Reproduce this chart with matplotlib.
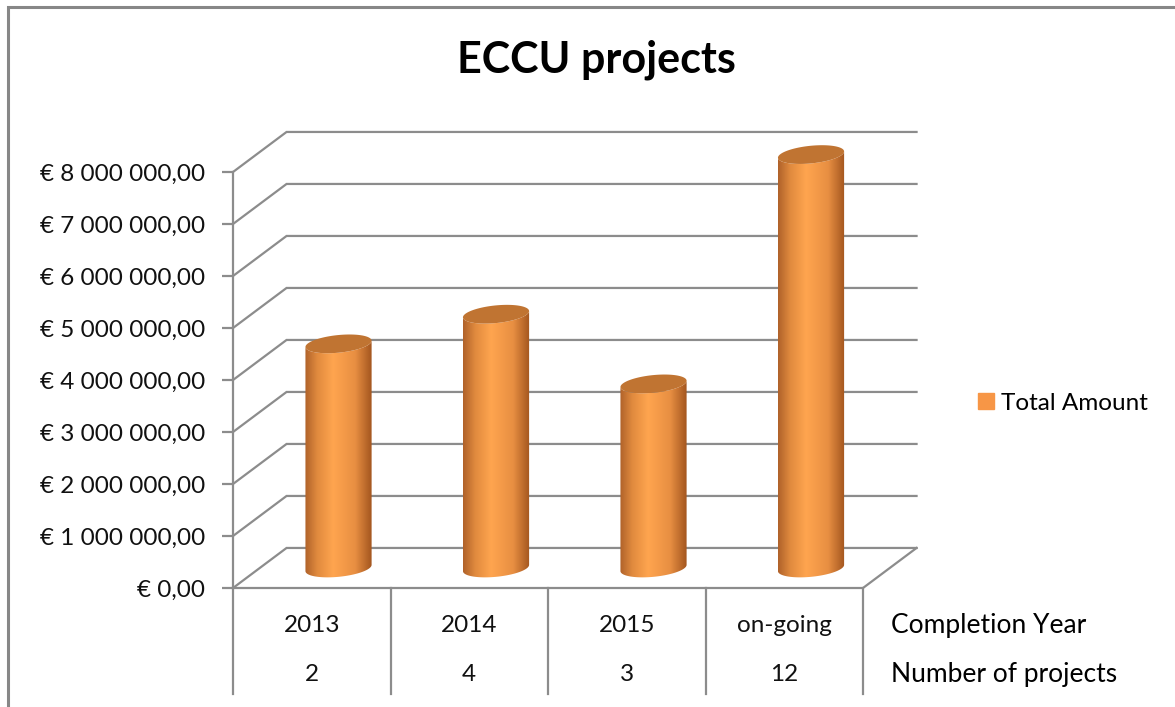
import numpy as np
import matplotlib
matplotlib.use("Agg")
import matplotlib.pyplot as plt
from matplotlib.patches import Polygon, Patch, Rectangle
from matplotlib.transforms import blended_transform_factory
from matplotlib.colors import LinearSegmentedColormap

plt.rcParams['font.family'] = ['Lato', 'DejaVu Sans']

# data
years = ['2013', '2014', '2015', 'on-going']
n_projects = ['2', '4', '3', '12']
amounts = [4.31e6, 4.88e6, 3.54e6, 7.95e6]
y_ticks = np.arange(0, 9e6, 1e6)

# fake-3d settings (data units)
DEPTH_X = 0.34
DEPTH_Y = 0.77e6
CYL_W = 0.42
ELL_H = 0.17e6
ELL_TILT = 0.06e6
GRID = '#8c8c8c'

cyl_cmap = LinearSegmentedColormap.from_list(
    'cyl', [(0, '#b0622a'), (0.18, '#e08a3e'), (0.42, '#ffa54f'),
            (0.75, '#e88f42'), (1, '#a3561f')])


def fmt_euro(v):
    s = f"{v:,.2f}".replace(',', ' ').replace('.', ',')
    return '€ ' + s


fig = plt.figure(figsize=(11.75, 7.07), dpi=100)
ax = fig.add_axes([233 / 1175, 119 / 707, 630 / 1175, 416 / 707])
ax.set_xlim(-0.5, 3.5)
ax.set_ylim(0, 8e6)

# back wall + diagonals
x0, x1 = -0.5, len(years) - 0.5
for v in y_ticks:
    ax.plot([x0, x0 + DEPTH_X, x1 + DEPTH_X], [v, v + DEPTH_Y, v + DEPTH_Y],
            color=GRID, lw=1.6, clip_on=False, zorder=1, solid_joinstyle='miter')
# floor edges
ax.plot([x0, x1, x1 + DEPTH_X], [0, 0, DEPTH_Y], color=GRID, lw=1.6,
        clip_on=False, zorder=2)

# cylinders
t = np.linspace(0, np.pi, 60)
grad = np.linspace(0, 1, 200).reshape(1, -1)
for i, v in enumerate(amounts):
    cx = i + DEPTH_X / 2
    a = CYL_W / 2
    base = DEPTH_Y / 2
    top = v + DEPTH_Y / 2
    # body outline: bottom = lower half ellipse, top = lower half of cap
    bx = cx - a * np.cos(t)
    by = base - ELL_H * np.sin(t) - ELL_TILT * np.cos(t)
    tx = cx + a * np.cos(t)
    ty = top - ELL_H * np.sin(t) + ELL_TILT * np.cos(t)
    body = Polygon(np.column_stack([np.r_[bx, tx], np.r_[by, ty]]),
                   closed=True, fc='none', ec='none', transform=ax.transData)
    ax.add_patch(body)
    im = ax.imshow(grad, cmap=cyl_cmap, aspect='auto', zorder=3,
                   extent=(cx - a, cx + a, base - 2 * ELL_H, top + 2 * ELL_H))
    im.set_clip_path(body)
    im.set_clip_box(fig.bbox)
    # top cap
    tt = np.linspace(0, 2 * np.pi, 100)
    ex = cx + a * np.cos(tt)
    ey = top + ELL_H * np.sin(tt) + ELL_TILT * np.cos(tt)
    ax.fill(ex, ey, color='#c07432', zorder=4, clip_on=False, lw=0)

ax.set_xlim(-0.5, 3.5)
ax.set_ylim(0, 8e6)

# axis styling
for s in ['top', 'right', 'bottom']:
    ax.spines[s].set_visible(False)
ax.spines['left'].set_color(GRID)
ax.spines['left'].set_linewidth(1.6)
ax.set_yticks(y_ticks)
ax.set_yticklabels([fmt_euro(v) for v in y_ticks])
ax.tick_params(axis='y', length=8, width=1.6, color=GRID, labelsize=17.5,
               labelcolor='#111111', pad=12)
ax.set_xticks([])
ax.patch.set_visible(False)

# category table below
tr = blended_transform_factory(ax.transData, ax.transAxes)
for xv in np.arange(-0.5, len(years), 1.0):
    ax.plot([xv, xv], [0, -0.255], color=GRID, lw=1.6, transform=tr,
            clip_on=False)
for i, (yr, n) in enumerate(zip(years, n_projects)):
    ax.text(i, -0.091, yr, transform=tr, ha='center', va='center',
            fontsize=17.5, color='#111111')
    ax.text(i, -0.209, n, transform=tr, ha='center', va='center',
            fontsize=17.5, color='#111111')
ax.text(3.68, -0.091, 'Completion Year', transform=tr, ha='left',
        va='center', fontsize=19, color='black')
ax.text(3.68, -0.209, 'Number of projects', transform=tr, ha='left',
        va='center', fontsize=19, color='black')

# title
fig.text(596 / 1175, 1 - 60 / 707, 'ECCU projects', ha='center', va='center',
         fontsize=31, fontweight='bold')

# legend
fig.legend(handles=[Patch(color='#f79646', label='Total Amount')],
           loc='center left', bbox_to_anchor=(966 / 1175, 1 - 403 / 707),
           frameon=False, handlelength=0.65, handleheight=0.65,
           handletextpad=0.3, borderpad=0, fontsize=17.5)

# outer frame
fig.add_artist(Rectangle((8 / 1175, -0.1), 1.2, 1.1 - 7 / 707,
                         transform=fig.transFigure, fill=False,
                         ec='#878787', lw=2.2))

fig.savefig('out.png', dpi=100)
